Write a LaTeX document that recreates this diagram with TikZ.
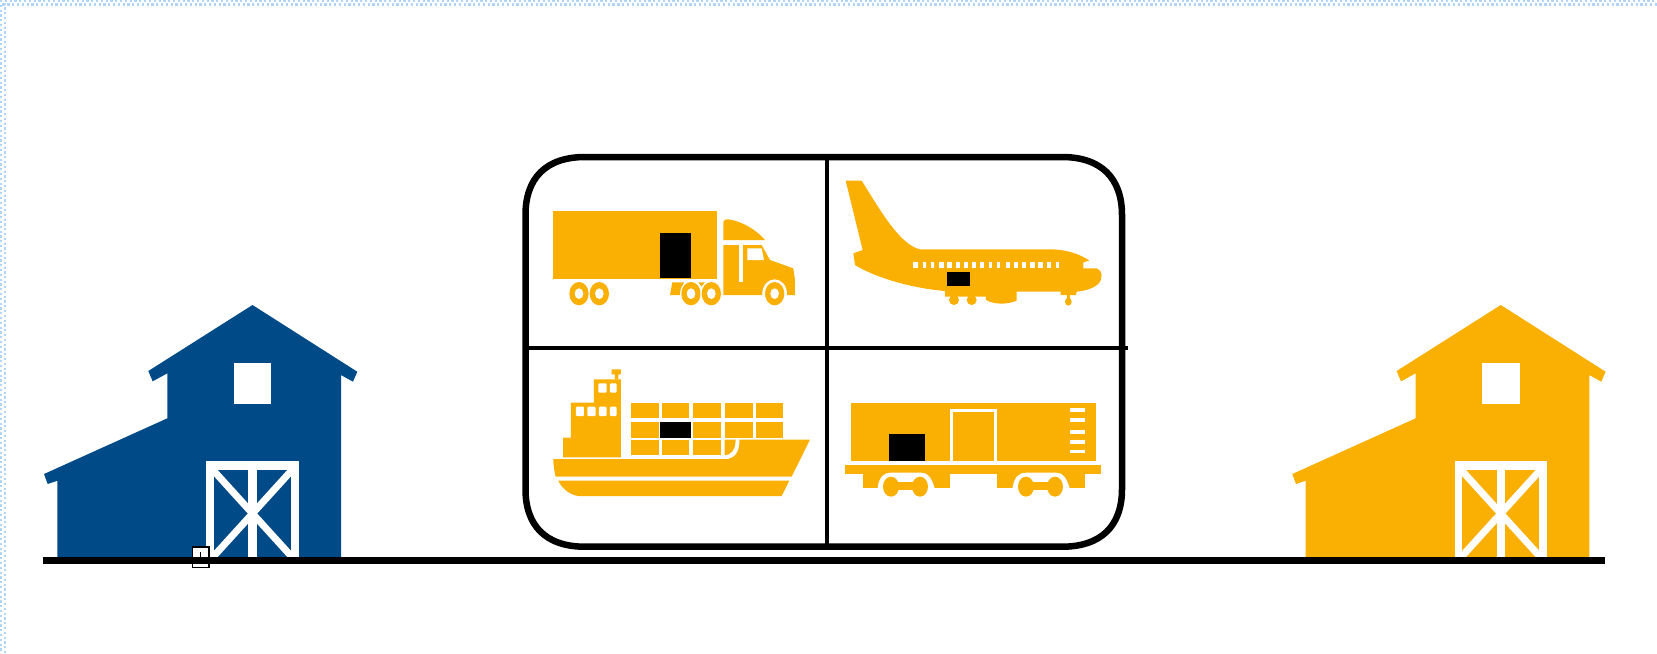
\documentclass[tikz,border=0pt]{standalone}
\usepackage{tikz}
\definecolor{cargo}{HTML}{F9B003}
\definecolor{barnblue}{HTML}{004A87}
\definecolor{gridblue}{HTML}{B0D4FA}
\tikzset{
    dotrow/.style={gridblue,line width=0.025cm,dash pattern=on 0.022cm off 0.026cm},
    divider/.style={black,line width=0.033cm},
    halo/.style={fill=white},
    pane/.style={fill=white},
    hold/.style={fill=black}
}
\begin{document}
\begin{tikzpicture}[x=0.01cm,y=-0.01cm]
        \useasboundingbox (0,0) rectangle (1657,653);
        % page edge
        \draw[dotrow] (0,1)--(1657,1); \draw[dotrow] (2.5,4.5)--(1657,4.5);
        \draw[dotrow] (1,0)--(1,653); \draw[dotrow] (5,2.5)--(5,653);
        % barns
        \foreach \bx/\barncol in {0/barnblue,1248.3/cargo}{
            \begin{scope}[shift={(\bx,0)}]
                \fill[\barncol] (252.5,305)--(357.3,371.7)--(353,381.7)--(341,375)--(341,557)--(57.3,557)--(57.3,480.7)--(47.7,484)--(44,474)
                    --(167.3,418.3)--(167.3,373.3)--(152.7,381.3)--(148.3,371)--cycle;
                \fill[white] (233.7,363.3) rectangle (271.3,404.3);
                \fill[white] (206.3,461) rectangle (298.7,557);
                \fill[\barncol] (213.7,470.3) rectangle (248.3,557);
                \fill[\barncol] (256.7,470.3) rectangle (291,557);
                \begin{scope}
                    \clip (206.3,461) rectangle (298.7,557);
                    \draw[white,line width=0.07cm] (213,470)--(292,557);
                    \draw[white,line width=0.07cm] (292,470)--(213,557);
                \end{scope}
            \end{scope}
        }
        % truck
        \begin{scope}[shift={(510,140)},scale=0.3333]
            \fill[cargo] (130,214) rectangle (621,418);
            \fill[hold] (450,278) rectangle (543,414);
            \fill[cargo] (487,427)--(522,427)--(512,465)--(480,465)--cycle;
            \fill[cargo] (565,427)--(585,427)--(575,440)--cycle;
            \fill[cargo] (640,300)--(640,250) .. controls (640,240) and (645,238) .. (655,238) .. controls (695,243) and (740,270) .. (765,300)--cycle;
            \fill[cargo] (640,315)--(755,315)--(780,360)--(850,385)--(855,420)--(855,465)--(640,465)--cycle;
            \fill[white] (712,325)--(755,325)--(762,360)--(712,360)--cycle;
            \fill[white] (688,315) rectangle (698,425);
            \foreach \wx/\wr in {207/0,268/0,543/4,604/4,794/8}{
                \fill[halo] (\wx,461) circle [x radius=29+\wr,y radius=35+\wr];
                \fill[cargo] (\wx,461) circle [x radius=29,y radius=35];
                \fill[white] (\wx,461) circle [x radius=13,y radius=16];
            }
        \end{scope}
        % plane
        \begin{scope}[shift={(820,140)},scale=0.3333]
            \fill[cargo] (77,122)--(125,122) .. controls (180,210) and (240,315) .. (300,328)--(700,328)
                .. controls (745,330) and (785,345) .. (808,362)--(790,367)--(790,385)--(830,385)
                .. controls (848,390) and (850,415) .. (835,432) .. controls (820,445) and (795,453) .. (770,455)
                --(768,465)--(722,465)--(722,455)--(590,455)--(590,482) .. controls (560,495) and (520,493) .. (498,480)--(498,470)--(375,470)--(375,453)
                .. controls (280,445) and (170,415) .. (105,375)--(100,340)--(128,330)--cycle;
            \fill[cargo] (402,480) circle (15);
            \fill[cargo] (455,480) circle (15);
            \fill[cargo] (741,463) rectangle (749,478);
            \fill[cargo] (745,485) circle [x radius=10,y radius=12];
            \foreach \wa/\wb in {280/293,308/317,333/342,358/371,382/396,407/420,431/444,455/468,480/493,508/517,532/541,557/570,582/595,606/619,631/644,655/668,680/693,708/717}{
                \fill[pane] (\wa,367) rectangle (\wb,384);
            }
            \fill[hold] (381,397) rectangle (449,437);
        \end{scope}
        % ship
        \begin{scope}[shift={(510,345)},scale=0.3333]
            \foreach \ca/\cb in {362/446,456/538,548/634,644/728,738/820}{
                \fill[cargo] (\ca,173) rectangle (\cb,220);
                \fill[cargo] (\ca,232) rectangle (\cb,278);
            }
            \foreach \ca/\cb in {362/446,456/538,548/634}{
                \fill[cargo] (\ca,284) rectangle (\cb,331);
            }
            \fill[cargo] (644,284)--(677,284) .. controls (677,310) and (665,331) .. (644,331)--cycle;
            \fill[hold] (451,232) rectangle (543,278);
            \fill[cargo] (130,342)--(650,342) .. controls (675,340) and (690,320) .. (688,284)--(900,284)--(845,395)--(137,395) .. controls (133,380) and (130,360) .. (130,342)--cycle;
            \fill[cargo] (145,407)--(838,407)--(815,453)--(205,453) .. controls (180,450) and (155,430) .. (145,407)--cycle;
            \fill[cargo] (159,337)--(159,278)--(183,278)--(183,173)--(252,173)--(252,103)--(333,103)--(333,337)--cycle;
            \fill[cargo] (305,73)--(333,73)--(333,88)--(325,88)--(325,103)--(315,103)--(315,88)--(305,88)--cycle;
            \foreach \wa/\wb in {198/222,232/257,267/290,300/320}{
                \fill[pane,rounded corners=0.01cm] (\wa,185) rectangle (\wb,213);
            }
            \foreach \wa/\wb in {265/290,300/320}{
                \fill[pane,rounded corners=0.01cm] (\wa,115) rectangle (\wb,143);
            }
        \end{scope}
        % boxcar
        \begin{scope}[shift={(820,345)},scale=0.3333]
            \fill[cargo] (94,173) rectangle (829,348);
            \draw[white,line width=0.027cm] (395,348)--(395,196)--(527,196)--(527,348);
            \foreach \ly in {190,220,255,285,314}{
                \fill[pane] (751,\ly) rectangle (795,\ly+11);
            }
            \fill[hold] (206,266) rectangle (314,348);
            \fill[cargo] (75,360) rectangle (843,388);
            \foreach \tx/\ta/\tb in {0/128/390,405/127/390}{
                \fill[cargo] (\ta+\tx,388) rectangle (\tb+\tx,430);
                \fill[white] (172+\tx,432) .. controls (178+\tx,395) and (190+\tx,383) .. (215+\tx,383)--(305+\tx,383) .. controls (325+\tx,383) and (335+\tx,400) .. (345+\tx,432)--cycle;
                \fill[cargo] (213+\tx,425) circle [x radius=24,y radius=30];
                \fill[cargo] (300+\tx,425) circle [x radius=24,y radius=30];
                \fill[cargo] (213+\tx,412) rectangle (300+\tx,434);
            }
        \end{scope}
        % frame
        \draw[black,line width=0.065cm] (585,157)--(1062,157) .. controls (1101,157) and (1122,178) .. (1122,215)--(1122,489)
            .. controls (1122,526) and (1101,546.7) .. (1062,546.7)--(585,546.7) .. controls (546,546.7) and (525.5,526) .. (525.5,489)--(525.5,215)
            .. controls (525.5,178) and (546,157) .. (585,157)--cycle;
        \draw[divider] (827,157)--(827,546.7);
        \draw[divider] (525.5,348)--(1128.3,348);
        % ground
        \node[draw=black,fill=white,line width=0.012cm,minimum width=0.167cm,minimum height=0.207cm,inner sep=0pt] (handle) at (200.7,557.3) {};
        \draw[black,line width=0.012cm] (handle.center)--++(0,-5.5);
        \fill[black] (42.7,556.7) rectangle (1605,564.3);
\end{tikzpicture}
\end{document}
